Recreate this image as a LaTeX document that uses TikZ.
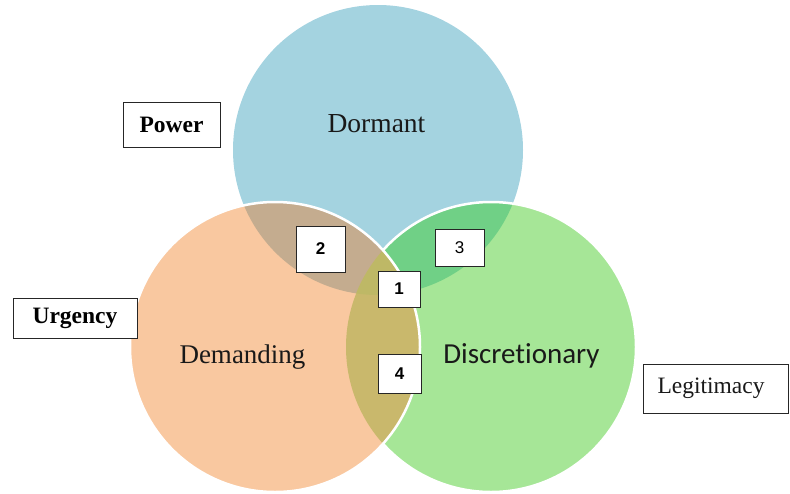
\documentclass[tikz,border=0pt]{standalone}
\usepackage{fontspec}
\setmainfont{Liberation Serif}
\newfontfamily\calibfont[Ligatures=NoCommon]{Carlito}
\newfontfamily\arialfont{Liberation Sans}
\usetikzlibrary{positioning}

\definecolor{dormblue}{RGB}{164,211,224}
\definecolor{demorange}{RGB}{249,200,160}
\definecolor{discgreen}{RGB}{166,230,151}
\definecolor{overtwo}{RGB}{196,172,143}
\definecolor{overthree}{RGB}{112,208,134}
\definecolor{overone}{RGB}{190,184,102}
\definecolor{overfour}{RGB}{201,184,108}

% the three circles
\def\circDorm{(378,150) circle [radius=145pt]}
\def\circDem{(275,347) circle [radius=145pt]}
\def\circDisc{(491,347) circle [radius=145pt]}

\begin{document}
\begin{tikzpicture}[%
	x=1pt,y=-1pt,
	every node/.style={inner sep=0pt},
	rim/.style={draw=white,line width=2.5pt},
	attrbox/.style={draw=black!85,line width=1pt,fill=white},
	numbox/.style={attrbox,font=\arialfont\bfseries\fontsize{17}{19}\selectfont},
	typetext/.style={anchor=base,text=black!90}]
	\useasboundingbox (0,0) rectangle (790,493);

	\fill[dormblue] \circDorm;
	\fill[discgreen] \circDisc;
	\begin{scope}
		\clip \circDorm;
		\fill[overthree] \circDisc;
	\end{scope}
	\draw[rim] \circDisc;

	\fill[demorange] \circDem;
	\begin{scope}
		\clip \circDem;
		\fill[overtwo] \circDorm;
		\fill[overfour] \circDisc;
		\clip \circDisc;
		\fill[overone] \circDorm;
	\end{scope}
	\draw[rim] \circDem;

	\node[typetext,font=\fontsize{27.5}{31}\selectfont] (dormant) at (376.5,132) {Dormant};
	\node[typetext,font=\fontsize{27}{31}\selectfont] (demanding) at (242.5,363) {Demanding};
	\node[typetext,font=\calibfont\fontsize{29}{33}\selectfont] (discretionary) at (521.5,363) {Discretionary};

	\node[attrbox,minimum width=97pt,minimum height=45pt,font=\bfseries\fontsize{23.5}{26}\selectfont] (power) at (171.5,124.5) {Power};
	\node[attrbox,minimum width=124pt,minimum height=40pt,font=\bfseries\fontsize{23.5}{26}\selectfont] (urgency) at (75,318) {Urgency};
	\node[attrbox,minimum width=145pt,minimum height=49pt] (legitimacy) at (716,388.5) {};
	\node[typetext,font=\fontsize{23.5}{27}\selectfont] (legtext) at (711,393) {Legitimacy};

	\node[numbox,minimum width=42pt,minimum height=36pt] (n1) at (399,289) {1};
	\node[numbox,minimum width=49pt,minimum height=46pt] (n2) at (320.5,249) {2};
	\node[numbox,font=\arialfont\fontsize{17}{19}\selectfont,minimum width=49pt,minimum height=37pt] (n3) at (459.5,247.5) {3};
	\node[numbox,minimum width=43pt,minimum height=39pt] (n4) at (399.5,373.5) {4};

\end{tikzpicture}
\end{document}
